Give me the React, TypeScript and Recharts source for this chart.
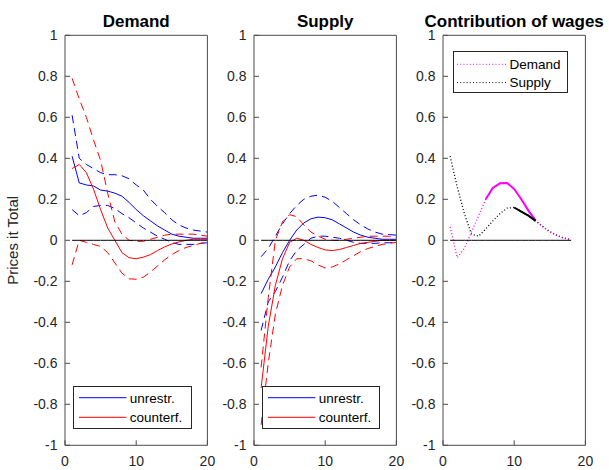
import React from 'react'
import { LineChart, Line, XAxis, YAxis, Legend } from 'recharts'

// impulse horizons
const horizon = [1, 2, 3, 4, 5, 6, 7, 8, 9, 10, 11, 12, 13, 14, 15, 16, 17, 18, 19, 20]
const wageHorizon = [1, 2, 3, 4, 5, 6, 7, 8, 9, 10, 11, 12, 13, 14, 15, 16, 17, 18]

// demand shock: unrestricted median + bands, counterfactual median + bands
const demandUnr = [0.41, 0.28, 0.27, 0.265, 0.245, 0.24, 0.23, 0.215, 0.185, 0.15, 0.12, 0.095, 0.07, 0.05, 0.03, 0.02, 0.015, 0.01, 0.01, 0.01]
const demandUnrHi = [0.61, 0.4, 0.37, 0.35, 0.33, 0.32, 0.32, 0.315, 0.3, 0.27, 0.245, 0.2, 0.165, 0.135, 0.1, 0.075, 0.06, 0.05, 0.045, 0.04]
const demandUnrLo = [0.15, 0.12, 0.135, 0.165, 0.17, 0.17, 0.155, 0.13, 0.11, 0.085, 0.06, 0.04, 0.02, 0.005, -0.01, -0.02, -0.02, -0.02, -0.015, -0.012]
const demandCf = [0.35, 0.37, 0.33, 0.25, 0.15, 0.06, 0.0, -0.06, -0.085, -0.09, -0.082, -0.07, -0.05, -0.032, -0.018, -0.008, 0.0, 0.005, 0.005, 0.005]
const demandCfHi = [0.79, 0.69, 0.6, 0.49, 0.39, 0.23, 0.09, 0.03, 0.0, -0.005, -0.005, 0.005, 0.015, 0.025, 0.03, 0.03, 0.03, 0.03, 0.025, 0.02]
const demandCfLo = [-0.12, 0.0, -0.01, -0.02, -0.03, -0.06, -0.11, -0.16, -0.188, -0.19, -0.18, -0.155, -0.125, -0.095, -0.07, -0.05, -0.035, -0.025, -0.015, -0.01]

// supply shock
const supplyUnr = [-0.26, -0.19, -0.13, -0.06, 0.0, 0.05, 0.085, 0.105, 0.113, 0.11, 0.1, 0.08, 0.06, 0.04, 0.025, 0.015, 0.01, 0.005, 0.005, 0.005]
const supplyUnrHi = [-0.08, -0.04, 0.02, 0.08, 0.13, 0.17, 0.2, 0.215, 0.22, 0.21, 0.19, 0.16, 0.13, 0.1, 0.075, 0.055, 0.04, 0.03, 0.028, 0.025]
const supplyUnrLo = [-0.44, -0.3, -0.25, -0.18, -0.1, -0.05, -0.02, 0.01, 0.02, 0.02, 0.015, 0.01, 0.0, -0.01, -0.015, -0.015, -0.015, -0.012, -0.012, -0.01]
const supplyCf = [-0.72, -0.42, -0.22, -0.09, -0.01, 0.01, 0.0, -0.02, -0.035, -0.047, -0.05, -0.045, -0.035, -0.025, -0.015, -0.01, -0.005, 0.0, 0.0, 0.0]
const supplyCfHi = [-0.62, -0.28, 0.0, 0.09, 0.125, 0.115, 0.075, 0.04, 0.02, 0.005, 0.0, 0.0, 0.005, 0.01, 0.015, 0.02, 0.02, 0.02, 0.02, 0.015]
const supplyCfLo = [-0.9, -0.6, -0.36, -0.22, -0.13, -0.09, -0.09, -0.1, -0.12, -0.135, -0.13, -0.115, -0.095, -0.075, -0.055, -0.04, -0.03, -0.02, -0.015, -0.01]

// wage contribution, with the horizons where it is significant
const wageDemand = [0.065, -0.085, -0.04, 0.04, 0.12, 0.2, 0.255, 0.278, 0.28, 0.25, 0.2, 0.145, 0.097, 0.065, 0.04, 0.022, 0.01, 0.004]
const wageSupply = [0.41, 0.26, 0.13, 0.03, 0.02, 0.055, 0.095, 0.13, 0.157, 0.16, 0.14, 0.12, 0.095, 0.068, 0.043, 0.024, 0.011, 0.004]
const wageDemandSig = [6, 13]
const wageSupplySig = [10, 13]

const xTicks = [0, 10, 20]
const yTicks = [-1, -0.8, -0.6, -0.4, -0.2, 0, 0.2, 0.4, 0.6, 0.8, 1]

const BLUE = '#0000ff'
const RED = '#ff0000'
const MAGENTA = '#ff00ff'
const AXIS = '#4a4a4a'
const TEXT = '#262626'
const FONT = '"Liberation Sans", Arial, Helvetica, sans-serif'

const PLOT_W = 142.4
const PLOT_TOP = 35.3
const PLOT_H = 410
const YAXIS_W = 60
const RIGHT_PAD = 40
const CHART_H = 470
const DASH = '8 5'
const DOT = '1 2.2'

const fmt = (v: number) => String(Number(v.toFixed(1)))

const irfRows = (unr: number[], unrHi: number[], unrLo: number[], cf: number[], cfHi: number[], cfLo: number[]) =>
  horizon.map((h, i) => ({ h, unr: unr[i], unrHi: unrHi[i], unrLo: unrLo[i], cf: cf[i], cfHi: cfHi[i], cfLo: cfLo[i] }))

const demandRows = irfRows(demandUnr, demandUnrHi, demandUnrLo, demandCf, demandCfHi, demandCfLo)
const supplyRows = irfRows(supplyUnr, supplyUnrHi, supplyUnrLo, supplyCf, supplyCfHi, supplyCfLo)
const inside = (h: number, r: number[]) => h >= r[0] && h <= r[1]
const wageRows = wageHorizon.map((h, i) => ({
  h,
  demand: wageDemand[i],
  supply: wageSupply[i],
  demandSig: inside(h, wageDemandSig) ? wageDemand[i] : null,
  supplySig: inside(h, wageSupplySig) ? wageSupply[i] : null,
}))

type LegendItem = { label: string; color: string; dash?: string }
type LegendSpec = { items: LegendItem[]; x: number; y: number; width: number; height: number; x1: number; x2: number; textX: number; rows: number[] }

function LegendBox({ items, width, height, x1, x2, textX, rows }: LegendSpec) {
  return (
    <div style={{ width, height, border: `1px solid ${TEXT}`, background: '#fff', boxSizing: 'border-box', position: 'relative' }}>
      <svg width={width} height={height} style={{ position: 'absolute', left: -1, top: -1 }}>
        {items.map((it, i) => (
          <g key={it.label}>
            <line x1={x1} x2={x2} y1={rows[i]} y2={rows[i]} stroke={it.color} strokeWidth={1} strokeDasharray={it.dash} />
            <text x={textX} y={rows[i] + 4.8} fontSize={13.5} fill="#000" fontFamily={FONT}>{it.label}</text>
          </g>
        ))}
      </svg>
    </div>
  )
}

const irfItems: LegendItem[] = [
  { label: 'unrestr.', color: BLUE },
  { label: 'counterf.', color: RED },
]
const wageItems: LegendItem[] = [
  { label: 'Demand', color: MAGENTA, dash: DOT },
  { label: 'Supply', color: '#000', dash: DOT },
]

function Panel({ plotLeft, title, data, yLabel, legend, children }: {
  plotLeft: number; title: string; data: any[]; yLabel?: string; legend: LegendSpec; children: React.ReactNode
}) {
  const left = plotLeft - YAXIS_W
  return (
    <div style={{ position: 'absolute', left, top: 0 }}>
      {/* top axis and right axis are 1px thick so CartesianAxis still draws them */}
      <LineChart width={YAXIS_W + PLOT_W + RIGHT_PAD} height={CHART_H} data={data}
        margin={{ top: PLOT_TOP - 1, right: RIGHT_PAD - 1, bottom: 0, left: 0 }}>
        <XAxis dataKey="h" type="number" domain={[0, 20]} ticks={xTicks} interval={0}
          height={CHART_H - PLOT_TOP - PLOT_H} tickSize={-5} tickMargin={16}
          stroke={AXIS} tick={{ fill: TEXT, fontSize: 14 }} />
        <XAxis xAxisId="top" dataKey="h" orientation="top" type="number" domain={[0, 20]} ticks={xTicks} interval={0}
          height={1} tickSize={-5} tick={false} stroke={AXIS}
          label={{ value: title, position: 'top', offset: 7, fontSize: 17, fontWeight: 'bold', fill: '#000' }} />
        <YAxis type="number" domain={[-1, 1]} ticks={yTicks} interval={0} width={YAXIS_W}
          tickSize={-5} tickMargin={12.5} tickFormatter={fmt} stroke={AXIS} tick={{ fill: TEXT, fontSize: 14 }}
          label={yLabel ? { value: yLabel, angle: -90, position: 'insideLeft', offset: 7.5, fontSize: 15, fill: TEXT, style: { textAnchor: 'middle' } } : undefined} />
        <YAxis yAxisId="right" orientation="right" type="number" domain={[-1, 1]} ticks={yTicks} interval={0}
          width={1} tickSize={-5} tick={false} stroke={AXIS} />
        {children}
        {/* horizontal zero line */}
        <Line xAxisId="top" yAxisId="right" dataKey={() => 0} stroke="#000" strokeWidth={1}
          dot={false} activeDot={false} isAnimationActive={false} />
        <Legend layout="horizontal" align="center" verticalAlign="middle"
          content={() => <LegendBox {...legend} />}
          wrapperStyle={{ left: YAXIS_W + legend.x, top: legend.y, width: legend.width, height: legend.height }} />
      </LineChart>
    </div>
  )
}

function irfLines() {
  const common = { dot: false, isAnimationActive: false, strokeWidth: 1, activeDot: false } as const
  return [
    <Line key="unrHi" dataKey="unrHi" stroke={BLUE} strokeDasharray={DASH} {...common} />,
    <Line key="unrLo" dataKey="unrLo" stroke={BLUE} strokeDasharray={DASH} {...common} />,
    <Line key="unr" dataKey="unr" stroke={BLUE} {...common} />,
    <Line key="cfHi" dataKey="cfHi" stroke={RED} strokeDasharray={DASH} {...common} />,
    <Line key="cfLo" dataKey="cfLo" stroke={RED} strokeDasharray={DASH} {...common} />,
    <Line key="cf" dataKey="cf" stroke={RED} {...common} />,
  ]
}

const irfLegend = (x: number): LegendSpec => ({
  items: irfItems, x, y: 386, width: 118.4, height: 43.3, x1: 6, x2: 53.4, textX: 56.7, rows: [11.7, 31.3],
})
const wageLegend: LegendSpec = {
  items: wageItems, x: 9.4, y: 50.7, width: 115.6, height: 42.6, x1: 4, x2: 53.3, textX: 56.6, rows: [13.3, 31.6],
}

export default function App() {
  const common = { dot: false, isAnimationActive: false, activeDot: false } as const
  return (
    <div style={{ position: 'absolute', left: 0, top: 0, width: 609, height: 470, background: '#fff', fontFamily: FONT, overflow: 'hidden' }}>
      <Panel plotLeft={65.3} title="Demand" data={demandRows} yLabel="Prices it Total" legend={irfLegend(8)}>
        {irfLines()}
      </Panel>
      <Panel plotLeft={254.3} title="Supply" data={supplyRows} legend={irfLegend(7.4)}>
        {irfLines()}
      </Panel>
      <Panel plotLeft={443.3} title="Contribution of wages" data={wageRows} legend={wageLegend}>
        <Line dataKey="supply" stroke="#000" strokeDasharray={DOT} strokeWidth={1.3} {...common} />
        <Line dataKey="demand" stroke={MAGENTA} strokeDasharray={DOT} strokeWidth={1.3} {...common} />
        <Line dataKey="demandSig" stroke={MAGENTA} strokeWidth={2} {...common} />
        <Line dataKey="supplySig" stroke="#000" strokeWidth={2} {...common} />
      </Panel>
    </div>
  )
}
